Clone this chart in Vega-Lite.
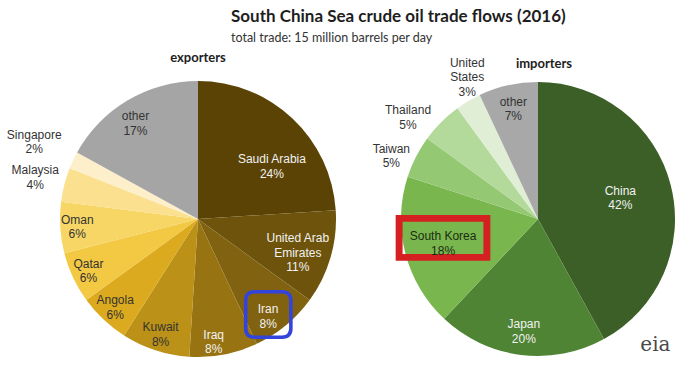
{
  "$schema": "https://vega.github.io/schema/vega-lite/v6.json",
  "padding": {"left": 0, "top": 8, "right": 0, "bottom": 0},
  "bounds": "flush",
  "spacing": 0,
  "resolve": {"scale": {"color": "independent", "theta": "independent"}},
  "title": {
    "text": "South China Sea crude oil trade flows (2016)",
    "subtitle": "total trade: 15 million barrels per day",
    "anchor": "start",
    "dx": 231,
    "font": "Lato",
    "fontSize": 17,
    "fontWeight": "bold",
    "color": "#1e1e1e",
    "subtitleFont": "Lato",
    "subtitleFontSize": 12.5,
    "subtitleColor": "#333333",
    "subtitlePadding": 6,
    "offset": 2
  },
  "config": {
    "view": {"stroke": null},
    "text": {"font": "Liberation Sans", "fontSize": 12, "lineBreak": "\n", "lineHeight": 14.5}
  },
  "hconcat": [
    {
      "width": 396,
      "height": 286,
      "title": {"text": "exporters", "font": "Lato", "fontSize": 13, "fontWeight": "bold", "color": "#1e1e1e", "offset": -15, "anchor": "middle"},
      "data": {
        "values": [
          {"name": "Saudi Arabia", "value": 24, "label": "Saudi Arabia\n24%"},
          {"name": "United Arab Emirates", "value": 11, "label": "United Arab\nEmirates\n11%"},
          {"name": "Iran", "value": 8, "label": "Iran\n8%"},
          {"name": "Iraq", "value": 8, "label": "Iraq\n8%"},
          {"name": "Kuwait", "value": 8, "label": "Kuwait\n8%"},
          {"name": "Angola", "value": 6, "label": "Angola\n6%"},
          {"name": "Qatar", "value": 6, "label": "Qatar\n6%"},
          {"name": "Oman", "value": 6, "label": "Oman\n6%"},
          {"name": "Malaysia", "value": 4, "label": "Malaysia\n4%"},
          {"name": "Singapore", "value": 2, "label": "Singapore\n2%"},
          {"name": "other", "value": 17, "label": "other\n17%"}
        ]
      },
      "transform": [{"window": [{"op": "row_number", "as": "idx"}]}],
      "encoding": {
        "theta": {"field": "value", "type": "quantitative", "stack": true},
        "order": {"field": "idx", "type": "quantitative"}
      },
      "layer": [
        {
          "mark": {"type": "arc", "radius": 138},
          "encoding": {
            "color": {
              "field": "name",
              "type": "nominal",
              "legend": null,
              "scale": {
                "domain": ["Saudi Arabia", "United Arab Emirates", "Iran", "Iraq", "Kuwait", "Angola", "Qatar", "Oman", "Malaysia", "Singapore", "other"],
                "range": ["#5b4306", "#6d530b", "#806210", "#977312", "#bb9118", "#dcaa1e", "#f3c843", "#f7d666", "#fae08f", "#fcefc9", "#a5a5a5"]
              }
            }
          }
        },
        {
          "mark": {"type": "text", "radius": 121, "dx": -7, "dy": 0, "font": "DejaVu Sans", "fontSize": 64},
          "encoding": {
            "text": {"condition": {"test": "datum.name === 'Iran'", "value": "▢"}, "value": ""},
            "color": {"value": "#3344dd"}
          }
        },
        {
          "mark": {"type": "text", "radius": 89, "dx": 13, "dy": 5},
          "encoding": {
            "text": {"condition": {"test": "datum.name === 'Saudi Arabia'", "field": "label"}, "value": ""},
            "color": {"value": "#f2f2f2"}
          }
        },
        {
          "mark": {"type": "text", "radius": 104, "dy": -10},
          "encoding": {
            "text": {"condition": {"test": "datum.name === 'United Arab Emirates'", "field": "label"}, "value": ""},
            "color": {"value": "#f2f2f2"}
          }
        },
        {
          "mark": {"type": "text", "radius": 121, "dx": -7, "dy": -3},
          "encoding": {
            "text": {"condition": {"test": "datum.name === 'Iran' || datum.name === 'Iraq'", "field": "label"}, "value": ""},
            "color": {"value": "#f2f2f2"}
          }
        },
        {
          "mark": {"type": "text", "radius": 121, "dy": -7},
          "encoding": {
            "text": {"condition": {"test": "indexof(['Kuwait','Angola','Qatar','Oman'], datum.name) >= 0", "field": "label"}, "value": ""},
            "color": {"value": "#333333"}
          }
        },
        {
          "mark": {"type": "text", "radius": 168, "dy": -7},
          "encoding": {
            "text": {"condition": {"test": "datum.name === 'Malaysia'", "field": "label"}, "value": ""},
            "color": {"value": "#333333"}
          }
        },
        {
          "mark": {"type": "text", "radius": 181, "dy": -7},
          "encoding": {
            "text": {"condition": {"test": "datum.name === 'Singapore'", "field": "label"}, "value": ""},
            "color": {"value": "#333333"}
          }
        },
        {
          "mark": {"type": "text", "radius": 115, "dx": -4, "dy": -4},
          "encoding": {
            "text": {"condition": {"test": "datum.name === 'other'", "field": "label"}, "value": ""},
            "color": {"value": "#333333"}
          }
        }
      ]
    },
    {
      "width": 284,
      "height": 286,
      "title": {"text": "importers", "font": "Lato", "fontSize": 13, "fontWeight": "bold", "color": "#1e1e1e", "offset": -19.5, "anchor": "middle", "dx": 6, "dy": 4},
      "data": {
        "values": [
          {"name": "China", "value": 42, "label": "China\n42%"},
          {"name": "Japan", "value": 20, "label": "Japan\n20%"},
          {"name": "South Korea", "value": 18, "label": "South Korea\n18%"},
          {"name": "Taiwan", "value": 5, "label": "Taiwan\n5%"},
          {"name": "Thailand", "value": 5, "label": "Thailand\n5%"},
          {"name": "United States", "value": 3, "label": "United\nStates\n3%"},
          {"name": "other", "value": 7, "label": "other\n7%"}
        ]
      },
      "transform": [{"window": [{"op": "row_number", "as": "idx"}]}],
      "layer": [
        {
          "mark": {"type": "arc", "radius": 137},
          "encoding": {
            "theta": {"field": "value", "type": "quantitative", "stack": true},
            "order": {"field": "idx", "type": "quantitative"},
            "color": {
              "field": "name",
              "type": "nominal",
              "legend": null,
              "scale": {
                "domain": ["China", "Japan", "South Korea", "Taiwan", "Thailand", "United States", "other"],
                "range": ["#3b5f27", "#4f8434", "#79b64e", "#95c873", "#b3da9b", "#e0eed6", "#a8a8a8"]
              }
            }
          }
        },
        {
          "mark": {"type": "text", "radius": 98, "dy": -10, "font": "DejaVu Sans", "fontSize": 124},
          "encoding": {
            "theta": {"field": "value", "type": "quantitative", "stack": true},
            "order": {"field": "idx", "type": "quantitative"},
            "text": {"condition": {"test": "datum.name === 'South Korea'", "value": "▭"}, "value": ""},
            "color": {"value": "#d42020"}
          }
        },
        {
          "mark": {"type": "text", "radius": 85, "dy": -7},
          "encoding": {
            "theta": {"field": "value", "type": "quantitative", "stack": true},
            "order": {"field": "idx", "type": "quantitative"},
            "text": {"condition": {"test": "datum.name === 'China'", "field": "label"}, "value": ""},
            "color": {"value": "#f2f2f2"}
          }
        },
        {
          "mark": {"type": "text", "radius": 98, "dy": -7},
          "encoding": {
            "theta": {"field": "value", "type": "quantitative", "stack": true},
            "order": {"field": "idx", "type": "quantitative"},
            "text": {"condition": {"test": "datum.name === 'South Korea'", "field": "label"}, "value": ""},
            "color": {"value": "#1c2c12"}
          }
        },
        {
          "mark": {"type": "text", "radius": 113, "dy": -7},
          "encoding": {
            "theta": {"field": "value", "type": "quantitative", "stack": true},
            "order": {"field": "idx", "type": "quantitative"},
            "text": {"condition": {"test": "datum.name === 'Japan' || datum.name === 'other'", "field": "label"}, "value": ""},
            "color": {"condition": {"test": "datum.name === 'other'", "value": "#333333"}, "value": "#f2f2f2"}
          }
        },
        {
          "mark": {"type": "text", "radius": 159, "dx": -5, "dy": 2},
          "encoding": {
            "theta": {"field": "value", "type": "quantitative", "stack": true},
            "order": {"field": "idx", "type": "quantitative"},
            "text": {"condition": {"test": "datum.name === 'Taiwan'", "field": "label"}, "value": ""},
            "color": {"value": "#333333"}
          }
        },
        {
          "mark": {"type": "text", "radius": 164, "dx": -14, "dy": 7},
          "encoding": {
            "theta": {"field": "value", "type": "quantitative", "stack": true},
            "order": {"field": "idx", "type": "quantitative"},
            "text": {"condition": {"test": "datum.name === 'Thailand'", "field": "label"}, "value": ""},
            "color": {"value": "#333333"}
          }
        },
        {
          "mark": {"type": "text", "radius": 78, "dx": -31, "dy": -89},
          "encoding": {
            "theta": {"field": "value", "type": "quantitative", "stack": true},
            "order": {"field": "idx", "type": "quantitative"},
            "text": {"condition": {"test": "datum.name === 'United States'", "field": "label"}, "value": ""},
            "color": {"value": "#333333"}
          }
        },
        {
          "mark": {"type": "text", "theta": 2.39, "radius": 172, "font": "DejaVu Serif", "fontSize": 20},
          "encoding": {
            "text": {"condition": {"test": "datum.name === 'China'", "value": "eia"}, "value": ""},
            "color": {"value": "#4a4a4a"}
          }
        }
      ]
    }
  ]
}
